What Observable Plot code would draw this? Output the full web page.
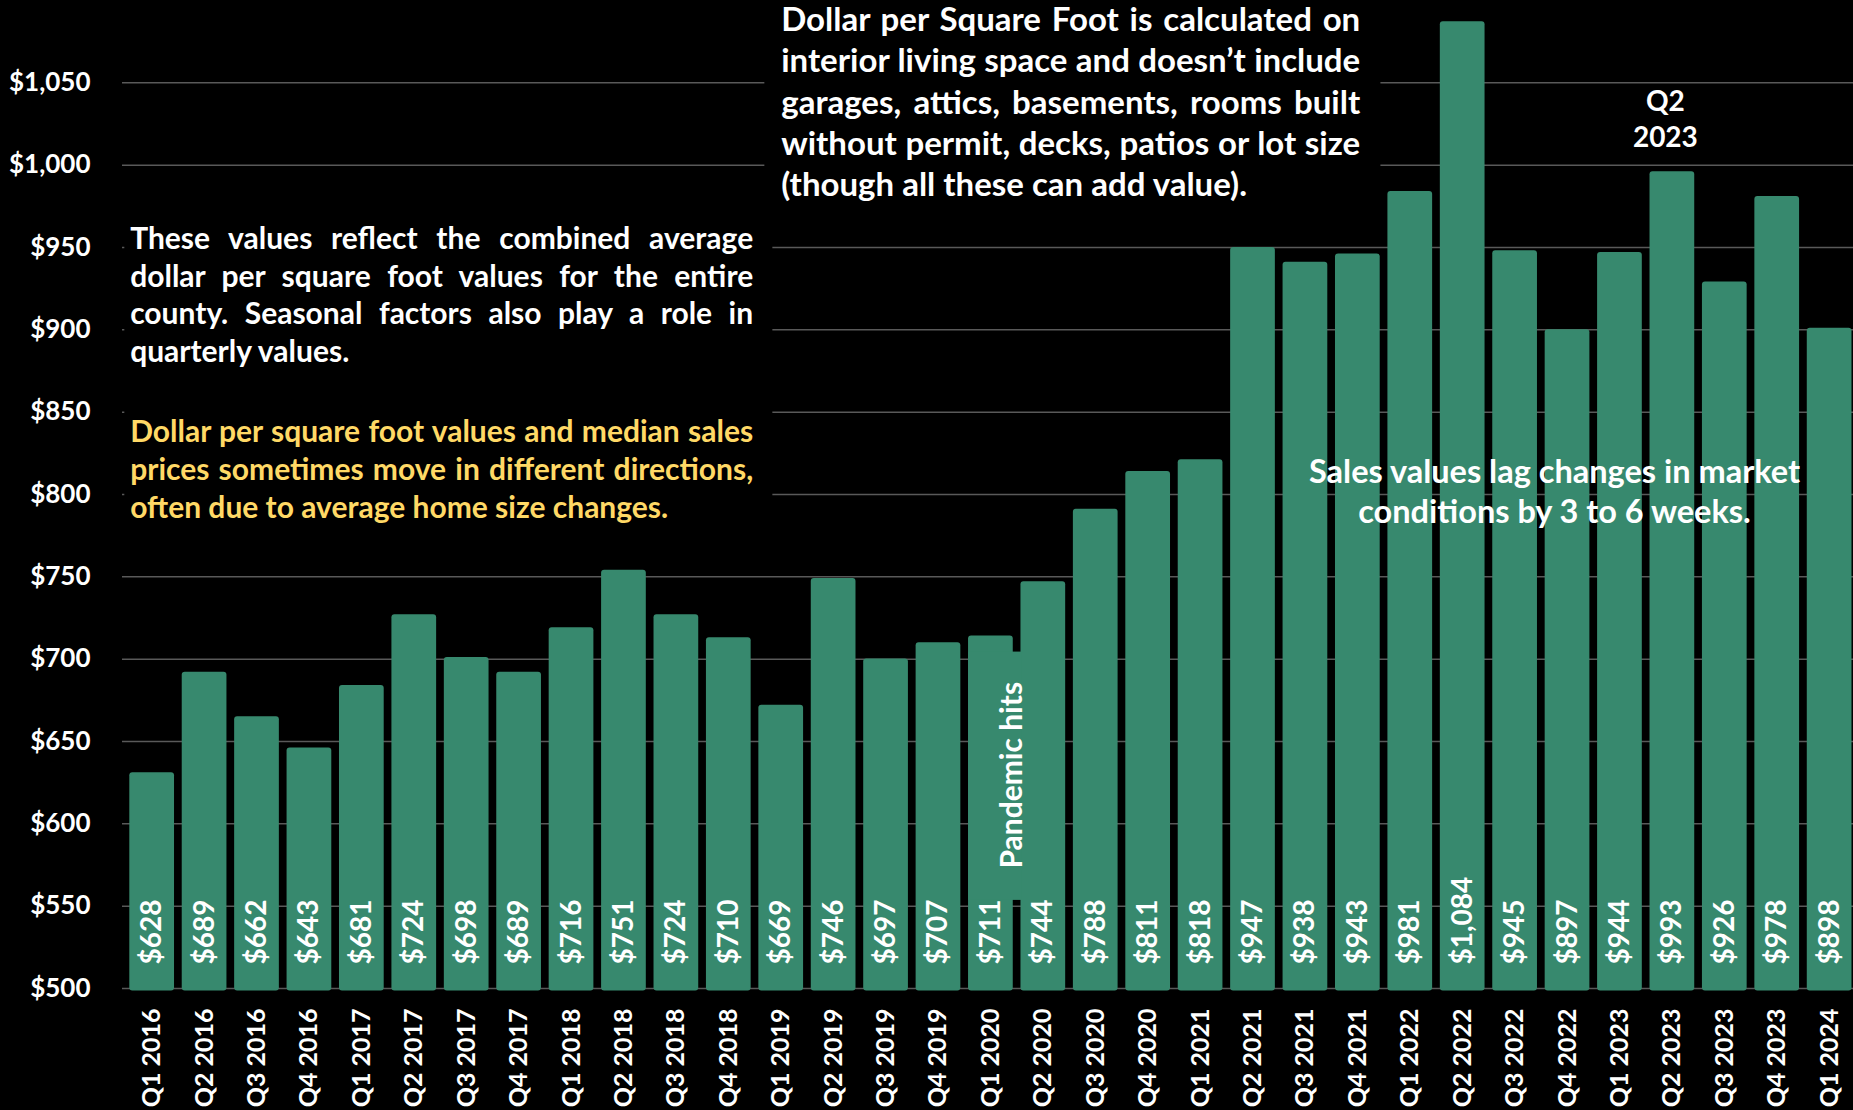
<!DOCTYPE html>
<html>
<head>
<meta charset="utf-8">
<script src="https://cdn.jsdelivr.net/npm/d3@7"></script>
<script src="https://cdn.jsdelivr.net/npm/@observablehq/plot@0.6"></script>
<style>
  html, body { margin: 0; padding: 0; background: #000; overflow: hidden; }
  #chart svg { display: block; }
</style>
</head>
<body>
<div id="chart"></div>
<script>
// ---------- data ----------
const quarters = [
  "Q1 2016", "Q2 2016", "Q3 2016", "Q4 2016",
  "Q1 2017", "Q2 2017", "Q3 2017", "Q4 2017",
  "Q1 2018", "Q2 2018", "Q3 2018", "Q4 2018",
  "Q1 2019", "Q2 2019", "Q3 2019", "Q4 2019",
  "Q1 2020", "Q2 2020", "Q3 2020", "Q4 2020",
  "Q1 2021", "Q2 2021", "Q3 2021", "Q4 2021",
  "Q1 2022", "Q2 2022", "Q3 2022", "Q4 2022",
  "Q1 2023", "Q2 2023", "Q3 2023", "Q4 2023",
  "Q1 2024"
];
const dollarPerSqFt = [
  628, 689, 662, 643,
  681, 724, 698, 689,
  716, 751, 724, 710,
  669, 746, 697, 707,
  711, 744, 788, 811,
  818, 947, 938, 943,
  981, 1084, 945, 897,
  944, 993, 926, 978,
  898
];
const yTicks = [500, 550, 600, 650, 700, 750, 800, 850, 900, 950, 1000, 1050];
const yDomain = [500, 1100];

const leftNoteLines = [
  "These values reflect the combined average",
  "dollar per square foot values for the entire",
  "county. Seasonal factors also play a role in",
  "quarterly values."
];
const leftNoteY = [949.3, 926.3, 903.3, 880.3];

const yellowNoteLines = [
  "Dollar per square foot values and median sales",
  "prices sometimes move in different directions,",
  "often due to average home size changes."
];
const yellowNoteY = [832, 809, 786];

const topNoteLines = [
  "Dollar per Square Foot is calculated on",
  "interior living space and doesn\u2019t include",
  "garages, attics, basements, rooms built",
  "without permit, decks, patios or lot size",
  "(though all these can add value)."
];
const topNoteY = [1081.5, 1056.4, 1031.3, 1006.2, 981];

const salesNoteLines = [
  "Sales values lag changes in market",
  "conditions by 3 to 6 weeks."
];
const salesNoteY = [807, 782.5];

const peakLabels = [
  {quarter: "Q2 2022", text: "Q2", y: 1125},
  {quarter: "Q2 2022", text: "2022", y: 1102.5},
  {quarter: "Q2 2023", text: "Q2", y: 1033},
  {quarter: "Q2 2023", text: "2023", y: 1011}
];
const pandemic = {quarter: "Q1 2020", text: "Pandemic hits", y: 629.5, boxFrom: 553.5, boxTo: 704.3};

// ---------- tables ----------
const rows = quarters.map((q, i) => ({quarter: q, value: dollarPerSqFt[i]}));
const mkLines = (lines, ys, quarter) => lines.map((t, i) => ({quarter, text: t, y: ys[i], last: i === lines.length - 1}));
const leftRows = mkLines(leftNoteLines, leftNoteY, "Q1 2016");
const yellowRows = mkLines(yellowNoteLines, yellowNoteY, "Q1 2016");
const topRows = mkLines(topNoteLines, topNoteY, "Q1 2019");
const salesRows = mkLines(salesNoteLines, salesNoteY, "Q4 2022");

const GREEN = "#37896E";
const WHITE = "#FFFFFF";
const YELLOW = "#FFD966";
const fmt = d3.format("$,");

// black boxes behind the text notes (hide grid lines)
const noteBoxes = [
  {from: "Q1 2016", padFrom: -5, to: "Q1 2019", padTo: 14, top: 980, bottom: 770},
  {from: "Q1 2019", padFrom: 6, to: "Q1 2022", padTo: -7, top: 1100, bottom: 962}
];
function boxesMark(index, scales) {
  const g = d3.create("svg:g");
  for (const b of noteBoxes) {
    const x1 = scales.x(b.from) + b.padFrom;
    const x2 = scales.x(b.to) + b.padTo;
    const y1 = scales.y(b.top);
    const y2 = scales.y(b.bottom);
    g.append("rect").attr("x", x1).attr("y", y1).attr("width", x2 - x1).attr("height", y2 - y1).attr("fill", "#000");
  }
  return g.node();
}

const textBase = {fontFamily: "Lato, sans-serif", fontWeight: "bold"};

const plot = Plot.plot({
  width: 1853,
  height: 1110,
  marginTop: 0,
  marginBottom: 122,
  marginLeft: 122,
  marginRight: 0,
  style: {background: "#000", color: "#fff", fontFamily: "Lato, sans-serif", fontWeight: "bold"},
  x: {type: "band", domain: quarters, range: [121.6, 1859.2], padding: 0.147, round: false, axis: null},
  y: {domain: yDomain, axis: null},
  marks: [
    Plot.gridY(yTicks, {stroke: "#595959", strokeOpacity: 1, strokeWidth: 1.5}),
    boxesMark,
    Plot.barY(rows, {x: "quarter", y1: yDomain[0], y2: "value", fill: GREEN, rx: 3, insetTop: -5, insetBottom: -2.5}),
    Plot.barY([pandemic], {x: "quarter", y1: "boxFrom", y2: "boxTo", fill: GREEN, insetRight: -9}),
    Plot.text(rows, {
      x: "quarter", frameAnchor: "bottom", text: d => fmt(d.value),
      rotate: -90, textAnchor: "start", lineAnchor: "middle", dy: -24,
      fill: WHITE, fontSize: 28, ...textBase
    }),
    Plot.text([pandemic], {
      x: "quarter", y: "y", text: "text", rotate: -90, textAnchor: "middle", lineAnchor: "middle",
      dx: 21, fill: WHITE, fontSize: 30, ...textBase
    }),
    Plot.text(peakLabels, {
      x: "quarter", y: "y", text: "text", textAnchor: "middle", lineAnchor: "bottom",
      dx: -7, fill: WHITE, fontSize: 28, ...textBase
    }),
    // left white note
    Plot.text(leftRows.filter(d => !d.last), {
      x: "quarter", y: "y", text: "text", textAnchor: "start", lineAnchor: "bottom",
      dx: -22, fill: WHITE, fontSize: 30, ariaDescription: "justify:623", ...textBase
    }),
    Plot.text(leftRows.filter(d => d.last), {
      x: "quarter", y: "y", text: "text", textAnchor: "start", lineAnchor: "bottom",
      dx: -22, fill: WHITE, fontSize: 30, ...textBase
    }),
    // yellow note
    Plot.text(yellowRows.filter(d => !d.last), {
      x: "quarter", y: "y", text: "text", textAnchor: "start", lineAnchor: "bottom",
      dx: -22, fill: YELLOW, fontSize: 30, ariaDescription: "justify:623", ...textBase
    }),
    Plot.text(yellowRows.filter(d => d.last), {
      x: "quarter", y: "y", text: "text", textAnchor: "start", lineAnchor: "bottom",
      dx: -22, fill: YELLOW, fontSize: 30, ...textBase
    }),
    // top note
    Plot.text(topRows.filter(d => !d.last), {
      x: "quarter", y: "y", text: "text", textAnchor: "start", lineAnchor: "bottom",
      dx: 0, fill: WHITE, fontSize: 33, ariaDescription: "justify:579", ...textBase
    }),
    Plot.text(topRows.filter(d => d.last), {
      x: "quarter", y: "y", text: "text", textAnchor: "start", lineAnchor: "bottom",
      dx: 0, fill: WHITE, fontSize: 33, ...textBase
    }),
    // sales note
    Plot.text(salesRows, {
      x: "quarter", y: "y", text: "text", textAnchor: "middle", lineAnchor: "bottom",
      dx: -13, fill: WHITE, fontSize: 32.5, ...textBase
    }),
    Plot.axisY({ticks: yTicks, tickFormat: fmt, tickSize: 0, tickPadding: 32, fontSize: 26, fill: WHITE, label: null, ...textBase}),
    Plot.axisX({tickSize: 0, tickPadding: 20, tickRotate: -90, fontSize: 25, fill: WHITE, label: null, ...textBase})
  ]
});

document.getElementById("chart").append(plot);

function justify() {
  plot.querySelectorAll('g[aria-description^="justify"]').forEach(g => {
    const w = +g.getAttribute("aria-description").split(":")[1];
    g.querySelectorAll("text").forEach(t => {
      t.style.wordSpacing = "0px";
      const spaces = (t.textContent.match(/ /g) || []).length;
      const len = t.getComputedTextLength();
      if (spaces) t.style.wordSpacing = ((w - len) / spaces) + "px";
    });
  });
}
justify();
if (document.fonts && document.fonts.ready) document.fonts.ready.then(justify);
</script>
</body>
</html>
